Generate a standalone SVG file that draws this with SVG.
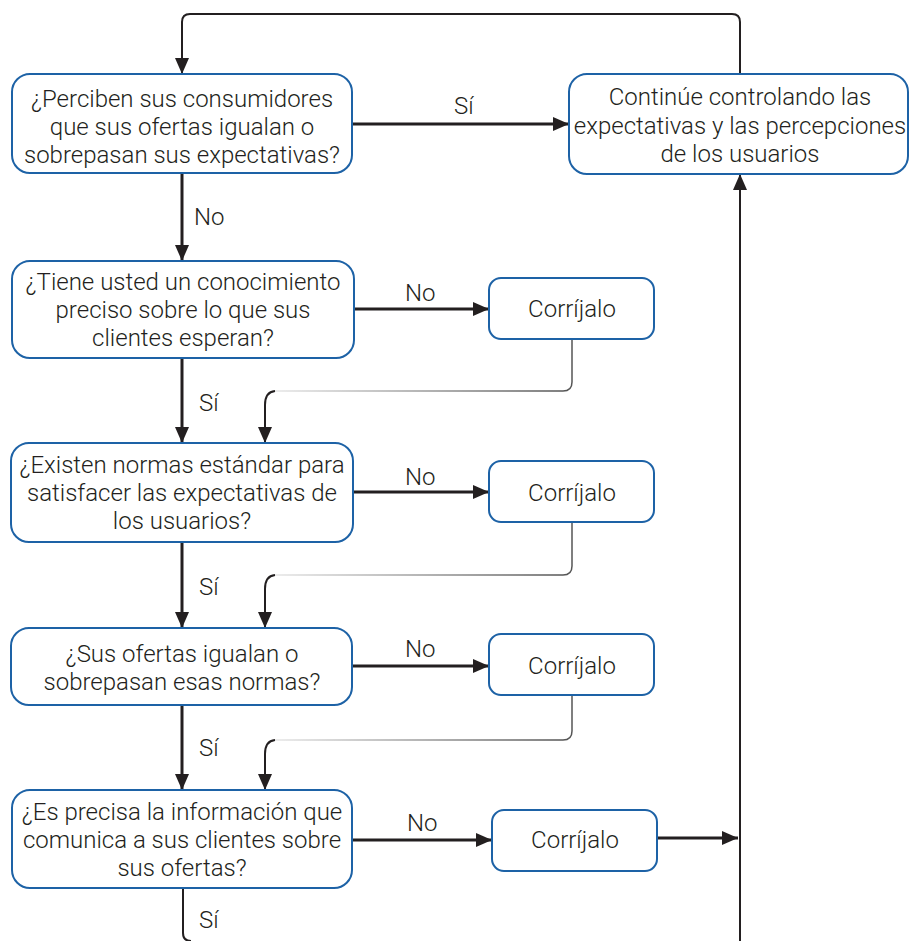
<svg xmlns="http://www.w3.org/2000/svg" width="909" height="941" viewBox="0 0 909 941">
  <defs>
    <marker id="arr" viewBox="0 0 16 14" refX="16" refY="7" markerWidth="16" markerHeight="14" markerUnits="userSpaceOnUse" orient="auto">
      <path d="M0,0 L16,7 L0,14 Z" fill="#231f20"/>
    </marker>
    <linearGradient id="fadeL1" gradientUnits="userSpaceOnUse" x1="275" y1="0" x2="565" y2="0">
      <stop offset="0" stop-color="#e6e6e6"/>
      <stop offset="1" stop-color="#555"/>
    </linearGradient>
    <style>
      .box { fill: #fff; stroke: #1d62a6; stroke-width: 2; }
      .t { font-family: Roboto, "Liberation Sans", Arial, sans-serif; font-weight: 300; font-size: 24px; fill: #231f20; text-anchor: middle; }
      .lbl { font-family: Roboto, "Liberation Sans", Arial, sans-serif; font-weight: 300; font-size: 24px; fill: #231f20; }
      .main { fill: none; stroke: #231f20; stroke-width: 3; }
      .thin { fill: none; stroke: #231f20; stroke-width: 2; }
      .fade { fill: none; stroke: url(#fadeL1); stroke-width: 1.5; }
    </style>
  </defs>

  <g id="connectors">
    <!-- feedback loop from the top right box back to the first question -->
    <path class="thin" d="M740,74 V22 Q740,14 732,14 H190 Q182,14 182,22 V74" marker-end="url(#arr)"/>
    <!-- Yes to continue -->
    <path class="main" d="M352,124 H569" marker-end="url(#arr)"/>
    <!-- main downward spine -->
    <path class="main" d="M182,173 V261" marker-end="url(#arr)"/>
    <path class="main" d="M182,358 V443" marker-end="url(#arr)"/>
    <path class="main" d="M182,542 V628" marker-end="url(#arr)"/>
    <path class="main" d="M182,705 V790" marker-end="url(#arr)"/>
    <path class="thin" d="M183,888 V933 Q183,941 191,941"/>
    <!-- No branches -->
    <path class="main" d="M354,309 H489" marker-end="url(#arr)"/>
    <path class="main" d="M353,492 H489" marker-end="url(#arr)"/>
    <path class="main" d="M352,666 H489" marker-end="url(#arr)"/>
    <path class="main" d="M352,840 H492" marker-end="url(#arr)"/>
    <path class="main" d="M657,838 H738" marker-end="url(#arr)"/>
    <!-- return from correction boxes -->
    <path class="fade" d="M572,339 V382 Q572,391 563,391 H275"/>
    <path class="thin" d="M275,391 Q265,392 265,405 V443" marker-end="url(#arr)"/>
    <path class="fade" d="M572,522 V566 Q572,575 563,575 H275"/>
    <path class="thin" d="M275,575 Q265,576 265,589 V628" marker-end="url(#arr)"/>
    <path class="fade" d="M572,695 V731 Q572,740 563,740 H275"/>
    <path class="thin" d="M275,740 Q265,741 265,754 V790" marker-end="url(#arr)"/>
    <!-- right side return line -->
    <path class="thin" d="M740,941 V174" marker-end="url(#arr)"/>
    <!-- labels -->
    <text class="lbl" x="454" y="114">Sí</text>
    <text class="lbl" x="194" y="225">No</text>
    <text class="lbl" x="405" y="301">No</text>
    <text class="lbl" x="199" y="411">Sí</text>
    <text class="lbl" x="405" y="485">No</text>
    <text class="lbl" x="199" y="595">Sí</text>
    <text class="lbl" x="405" y="657">No</text>
    <text class="lbl" x="199" y="756">Sí</text>
    <text class="lbl" x="407" y="831">No</text>
    <text class="lbl" x="199" y="928">Sí</text>
  </g>

  <g id="q1">
    <rect class="box" x="12" y="74" width="340" height="99" rx="18"/>
    <text class="t" x="182" y="107">¿Perciben sus consumidores</text>
    <text class="t" x="182" y="135">que sus ofertas igualan o</text>
    <text class="t" x="182" y="163">sobrepasan sus expectativas?</text>
  </g>
  <g id="continue">
    <rect class="box" x="569" y="74" width="339" height="100" rx="18"/>
    <text class="t" x="740" y="105">Continúe controlando las</text>
    <text class="t" x="740" y="134">expectativas y las percepciones</text>
    <text class="t" x="740" y="162">de los usuarios</text>
  </g>
  <g id="q2">
    <rect class="box" x="12" y="261" width="342" height="97" rx="18"/>
    <text class="t" x="183" y="290">¿Tiene usted un conocimiento</text>
    <text class="t" x="183" y="318">preciso sobre lo que sus</text>
    <text class="t" x="183" y="346">clientes esperan?</text>
  </g>
  <g id="fix1">
    <rect class="box" x="489" y="278" width="165" height="61" rx="12"/>
    <text class="t" x="572" y="317">Corríjalo</text>
  </g>
  <g id="q3">
    <rect class="box" x="11" y="443" width="342" height="99" rx="18"/>
    <text class="t" x="182" y="473">¿Existen normas estándar para</text>
    <text class="t" x="182" y="501">satisfacer las expectativas de</text>
    <text class="t" x="182" y="529">los usuarios?</text>
  </g>
  <g id="fix2">
    <rect class="box" x="489" y="461" width="165" height="61" rx="12"/>
    <text class="t" x="572" y="501">Corríjalo</text>
  </g>
  <g id="q4">
    <rect class="box" x="11" y="628" width="341" height="77" rx="18"/>
    <text class="t" x="182" y="662">¿Sus ofertas igualan o</text>
    <text class="t" x="182" y="690">sobrepasan esas normas?</text>
  </g>
  <g id="fix3">
    <rect class="box" x="489" y="634" width="165" height="61" rx="12"/>
    <text class="t" x="572" y="674">Corríjalo</text>
  </g>
  <g id="q5">
    <rect class="box" x="12" y="790" width="340" height="98" rx="18"/>
    <text class="t" x="182" y="820">¿Es precisa la información que</text>
    <text class="t" x="182" y="848">comunica a sus clientes sobre</text>
    <text class="t" x="182" y="876">sus ofertas?</text>
  </g>
  <g id="fix4">
    <rect class="box" x="492" y="810" width="165" height="61" rx="12"/>
    <text class="t" x="575" y="848">Corríjalo</text>
  </g>
</svg>
